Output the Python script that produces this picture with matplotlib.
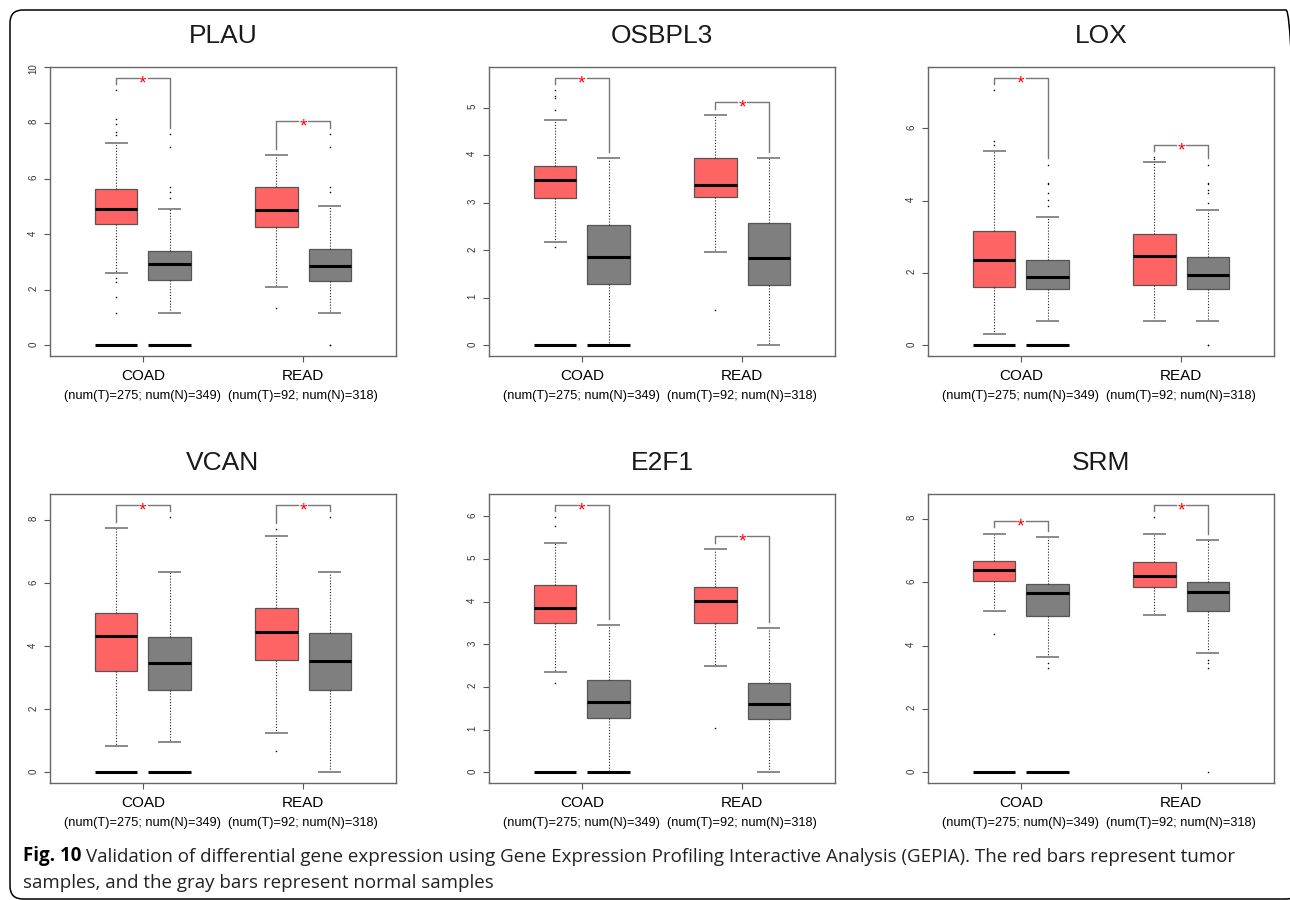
import numpy as np
import matplotlib
matplotlib.use("Agg")
import matplotlib.pyplot as plt
from matplotlib.patches import FancyBboxPatch
from matplotlib.text import Annotation
from matplotlib.transforms import IdentityTransform

plt.rcParams['font.family'] = ['Liberation Sans', 'DejaVu Sans']

genes = ["PLAU", "OSBPL3", "LOX", "VCAN", "E2F1", "SRM"]
cancers = ["COAD", "READ"]
n_tumor = [275, 92]
n_normal = [349, 318]

# box order in every panel: COAD tumor, COAD normal, READ tumor, READ normal
whis_lo = [[2.60, 1.15, 2.09, 1.15],
           [2.18, 0.00, 1.96, 0.00],
           [0.31, 0.66, 0.66, 0.66],
           [0.84, 0.95, 1.24, 0.00],
           [2.35, 0.00, 2.49, 0.00],
           [5.11, 3.63, 4.96, 3.76]]
q1 = [[4.38, 2.36, 4.24, 2.32],
      [3.09, 1.29, 3.12, 1.26],
      [1.61, 1.55, 1.66, 1.55],
      [3.20, 2.60, 3.57, 2.60],
      [3.49, 1.28, 3.50, 1.24],
      [6.03, 4.95, 5.84, 5.08]]
med = [[4.90, 2.92, 4.86, 2.86],
       [3.48, 1.85, 3.38, 1.83],
       [2.35, 1.90, 2.48, 1.95],
       [4.32, 3.45, 4.45, 3.54],
       [3.85, 1.65, 4.02, 1.59],
       [6.39, 5.65, 6.21, 5.70]]
q3 = [[5.61, 3.40, 5.70, 3.45],
      [3.78, 2.52, 3.94, 2.57],
      [3.15, 2.36, 3.07, 2.43],
      [5.04, 4.28, 5.20, 4.41],
      [4.38, 2.16, 4.33, 2.09],
      [6.66, 5.96, 6.64, 6.01]]
whis_hi = [[7.27, 4.92, 6.84, 5.03],
           [4.74, 3.94, 4.85, 3.94],
           [5.38, 3.54, 5.08, 3.73],
           [7.73, 6.36, 7.50, 6.36],
           [5.36, 3.44, 5.23, 3.37],
           [7.54, 7.44, 7.54, 7.34]]
outliers = [
    [[9.17, 8.14, 7.97, 7.66, 7.57, 2.41, 2.29, 1.75, 1.15], [7.60, 7.12, 5.68, 5.53, 5.30], [1.33], [7.60, 7.12, 5.68, 5.53, 0.0, 0.0]],
    [[5.36, 5.25, 5.20, 4.94, 2.07], [], [0.74], []],
    [[7.05, 5.66, 5.55], [5.00, 4.50, 4.45, 4.20, 4.03, 3.85], [5.20, 5.15], [5.00, 4.50, 4.45, 4.30, 4.20, 3.95, 0.0, 0.0]],
    [[], [8.08], [7.72, 0.68], [8.08]],
    [[5.97, 5.77, 2.09], [], [1.03], []],
    [[4.37], [3.44, 3.30], [8.05], [3.55, 3.44, 3.30, 0.0]],
]
# flat bars at zero drawn under the COAD boxes
zero_bars = [True, True, False, False]
y_step = [2, 1, 2, 2, 1, 2]

box_colors = ["#FF6464", "#7F7F7F"]
offset = 0.167
box_w = 0.265

W, H = 1290, 900
fig = plt.figure(figsize=(W / 100, H / 100), dpi=100)

col_left = [50, 489, 928]
row_top = [67, 494]
ax_w, ax_h = 346, 289

for i, gene in enumerate(genes):
    r, c = divmod(i, 3)
    ax = fig.add_axes([col_left[c] / W, 1 - (row_top[r] + ax_h) / H, ax_w / W, ax_h / H])

    centers = np.arange(1, len(cancers) + 1)
    positions = []
    for g in centers:
        positions += [g - offset, g + offset]

    stats = []
    for j in range(4):
        stats.append(dict(whislo=whis_lo[i][j], q1=q1[i][j], med=med[i][j],
                          q3=q3[i][j], whishi=whis_hi[i][j], fliers=outliers[i][j]))
    bp = ax.bxp(stats, positions=positions, widths=box_w, capwidths=box_w / 2,
                patch_artist=True,
                boxprops=dict(edgecolor="#555555", linewidth=0.9),
                medianprops=dict(color="black", linewidth=2.2),
                whiskerprops=dict(color="#222222", linestyle=(0, (1, 1.6)), linewidth=0.8),
                capprops=dict(color="#8a8a8a", linewidth=1.4),
                flierprops=dict(marker=".", markersize=2.2, markerfacecolor="black",
                                markeredgecolor="none", linestyle="none"))
    for j, patch in enumerate(bp["boxes"]):
        patch.set_facecolor(box_colors[j % 2])

    for j, p in enumerate(positions):
        if zero_bars[j]:
            ax.hlines(0, p - box_w / 2, p + box_w / 2, color="black", linewidth=2.2, zorder=3)

    # group maxima decide where the significance brackets sit
    tops = [max([whis_hi[i][j]] + outliers[i][j]) for j in range(4)]
    peak = max(tops)
    bracket_tops = []
    for k, g in enumerate(centers):
        t_top, n_top = tops[2 * k], tops[2 * k + 1]
        y_br = max(t_top, n_top) + 0.05 * peak
        bracket_tops.append(y_br)
        xt, xn = g - offset, g + offset
        gap = 0.032
        ax.plot([xt, xt, g - gap], [t_top + 0.024 * peak, y_br, y_br], color="#777777", lw=1)
        ax.plot([g + gap, xn, xn], [y_br, y_br, n_top + 0.024 * peak], color="#777777", lw=1)
        ax.annotate("*", xy=(g, y_br), xytext=(0, -7.5), textcoords="offset points",
                    ha="center", va="baseline", color="red", fontsize=14)

    ymax = max(bracket_tops)
    pad = 0.04 * ymax
    ax.set_xlim(0.42, 2.58)
    ax.set_yticks(np.arange(0, ymax + pad + 0.1, y_step[i]))
    ax.set_ylim(-pad, ymax + pad)
    ax.set_xticks(centers)
    ax.set_xticklabels([])
    ax.tick_params(axis="y", labelrotation=90, labelsize=7, labelcolor="#333333",
                   direction="out", length=4.5, width=0.8, color="#555555", pad=4)
    ax.tick_params(axis="x", direction="out", length=4.5, width=0.8, color="#555555")
    for s in ax.spines.values():
        s.set_color("#666666")
        s.set_linewidth(1.0)

    ax.annotate(gene, xy=(0.5, 1), xycoords="axes fraction", xytext=(0, 22.5),
                textcoords="offset points", ha="center", va="center", fontsize=19,
                color="#1a1a1a")
    for k, g in enumerate(centers):
        ax.annotate(cancers[k], xy=(g, 0), xycoords=("data", "axes fraction"),
                    xytext=(0, -14.5), textcoords="offset points", ha="center",
                    va="center", fontsize=11)
        ax.annotate(f"(num(T)={n_tumor[k]}; num(N)={n_normal[k]})", xy=(g, 0),
                    xycoords=("data", "axes fraction"), xytext=(0, -29),
                    textcoords="offset points", ha="center", va="center", fontsize=9.2)

# rounded outer frame
frame = FancyBboxPatch((10, 1), 1289, 889, boxstyle="round,pad=0,rounding_size=13",
                       transform=IdentityTransform(), fill=False, edgecolor="black",
                       linewidth=1.1)
fig.add_artist(frame)

cap_font = ["Open Sans", "DejaVu Sans"]
cap_size = 13.5
fig_label = fig.text(23 / W, 1 - 856 / H, "Fig. 10", fontsize=cap_size, fontweight="bold",
                     family=cap_font, va="center", ha="left")
fig.add_artist(Annotation(
    "Validation of differential gene expression using Gene Expression Profiling Interactive "
    "Analysis (GEPIA). The red bars represent tumor",
    xy=(1, 0), xycoords=fig_label, xytext=(3.5, 0), textcoords="offset points",
    ha="left", va="bottom", fontsize=cap_size, family=cap_font, color="#222222"))
fig.text(23 / W, 1 - 883 / H, "samples, and the gray bars represent normal samples",
         fontsize=cap_size, family=cap_font, va="center", ha="left", color="#222222")

fig.savefig("out.png", dpi=100)
